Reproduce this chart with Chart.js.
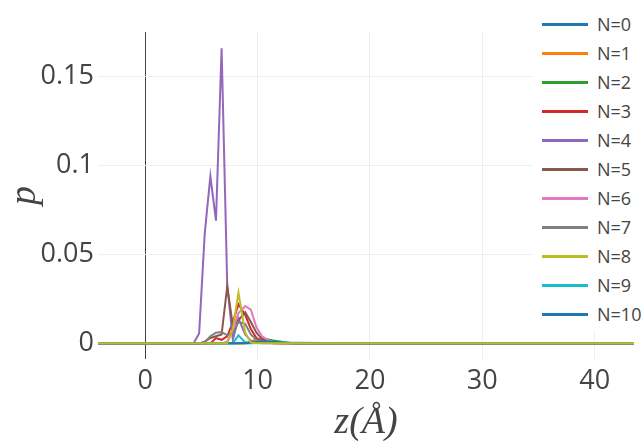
<!DOCTYPE html>
<html>
<head>
<meta charset="utf-8">
<script src="https://cdn.jsdelivr.net/npm/chart.js@4.4.0/dist/chart.umd.min.js"></script>
<style>
  html, body { margin: 0; padding: 0; background: #fff; }
  #wrap { position: relative; width: 643px; height: 446px; }
  #legend { position: absolute; left: 533px; top: 0; width: 110px; height: 330px; background: #fff;
            font-family: 'Open Sans', sans-serif; font-size: 18px; color: #444; }
  .item { position: absolute; left: 0; height: 29px; width: 110px; }
  .swatch { position: absolute; left: 9px; top: 13px; width: 46px; height: 3px; }
  .lbl { position: absolute; left: 64px; top: 0; line-height: 29px; }
</style>
</head>
<body>
<div id="wrap">
  <canvas id="chart" width="643" height="446"></canvas>
  <div id="legend"></div>
</div>
<script>
const z = [-4.2, 3.7, 4.3, 4.8, 5.3, 5.8, 6.3, 6.8, 7.3, 7.8, 8.3, 8.9, 9.4, 9.9, 10.4, 11.0, 11.5, 12.0, 12.5, 13.0, 14.0, 16.0, 20.0, 43.5];

const seriesNames = ['N=0', 'N=1', 'N=2', 'N=3', 'N=4', 'N=5', 'N=6', 'N=7', 'N=8', 'N=9', 'N=10'];
const seriesColors = ['#1f77b4', '#ff7f0e', '#2ca02c', '#d62728', '#9467bd', '#8c564b', '#e377c2', '#7f7f7f', '#bcbd22', '#17becf', '#1f77b4'];

const pN0 = [0, 0, 0, 0, 0, 0, 0, 0, 0, 0, 0, 0, 0, 0.0002, 0.0004, 0.0005, 0.0005, 0.0004, 0.0003, 0.0002, 0.0001, 0, 0, 0];
const pN1 = [0, 0, 0, 0, 0, 0, 0, 0, 0, 0, 0, 0, 0.001, 0.0025, 0.003, 0.002, 0.001, 0.0005, 0.0002, 0, 0, 0, 0, 0];
const pN2 = [0, 0, 0, 0, 0, 0, 0, 0, 0, 0, 0, 0.0003, 0.0006, 0.001, 0.002, 0.002, 0.0015, 0.001, 0.0005, 0.0002, 0, 0, 0, 0];
const pN3 = [0, 0, 0, 0, 0, 0, 0.003, 0.002, 0.004, 0.012, 0.022, 0.016, 0.008, 0.003, 0.001, 0.0004, 0, 0, 0, 0, 0, 0, 0, 0];
const pN4 = [0, 0, 0, 0.0056, 0.062, 0.094, 0.069, 0.166, 0.033, 0.002, 0.014, 0.005, 0.0015, 0.0005, 0, 0, 0, 0, 0, 0, 0, 0, 0, 0];
const pN5 = [0, 0, 0, 0, 0.001, 0.003, 0.004, 0.005, 0.032, 0.010, 0.013, 0.0175, 0.012, 0.006, 0.0025, 0.001, 0.0005, 0, 0, 0, 0, 0, 0, 0];
const pN6 = [0, 0, 0, 0, 0, 0, 0, 0, 0.001, 0.008, 0.017, 0.021, 0.019, 0.009, 0.004, 0.0015, 0.0005, 0.0002, 0, 0, 0, 0, 0, 0];
const pN7 = [0, 0, 0, 0, 0.0007, 0.004, 0.006, 0.0064, 0.0045, 0.006, 0.012, 0.011, 0.005, 0.002, 0.001, 0.0004, 0, 0, 0, 0, 0, 0, 0, 0];
const pN8 = [0, 0, 0, 0, 0, 0, 0, 0, 0, 0.008, 0.0285, 0.006, 0.0005, 0, 0, 0, 0, 0, 0, 0, 0, 0, 0, 0];
const pN9 = [0, 0, 0, 0, 0, 0, 0, 0, 0, 0, 0.0045, 0.0005, 0.0004, 0.0004, 0.0004, 0.0003, 0.0003, 0.0003, 0.0003, 0.0003, 0.0003, 0.0002, 0.0001, 0];
const pN10 = [0, 0, 0, 0, 0, 0, 0, 0, 0, 0, 0, 0, 0.0003, 0.0008, 0.001, 0.001, 0.0008, 0.0005, 0.0003, 0.0001, 0, 0, 0, 0];
const seriesValues = [pN0, pN1, pN2, pN3, pN4, pN5, pN6, pN7, pN8, pN9, pN10];

const xTicks = [0, 10, 20, 30, 40];
const yTicks = [0, 0.05, 0.1, 0.15];

const datasets = seriesNames.map((name, i) => ({
  label: name,
  data: z.map((x, k) => ({ x, y: seriesValues[i][k] })),
  borderColor: seriesColors[i],
  borderWidth: 2,
  pointRadius: 0,
  tension: 0,
  fill: false,
  // later traces on top, olive baseline on top of everything
  order: name === 'N=8' ? -1 : 10 - i,
}));

new Chart(document.getElementById('chart'), {
  type: 'line',
  data: { datasets },
  options: {
    responsive: false,
    animation: false,
    devicePixelRatio: 1,
    layout: { padding: { left: 0, right: 9, top: 32, bottom: 0 } },
    plugins: { legend: { display: false }, tooltip: { enabled: false } },
    scales: {
      x: {
        type: 'linear',
        min: -4.2,
        max: 43.5,
        afterBuildTicks: s => { s.ticks = xTicks.map(v => ({ value: v })); },
        afterFit: s => { s.height = 87; },
        grid: {
          drawTicks: false,
          color: ctx => (ctx.tick && ctx.tick.value === 0 ? '#444' : '#eeeeee'),
          lineWidth: 1,
        },
        border: { display: false },
        ticks: { color: '#444', padding: 6, font: { family: 'Open Sans', size: 27 } },
        title: {
          display: true,
          text: 'z(Å)',
          color: '#444',
          font: { family: 'Liberation Serif', style: 'italic', size: 38 },
          padding: { top: 0, bottom: 0 },
        },
      },
      y: {
        min: -0.0088,
        max: 0.1752,
        afterBuildTicks: s => { s.ticks = yTicks.map(v => ({ value: v })); },
        afterFit: s => { s.width = 98; },
        grid: { drawTicks: false, color: '#eeeeee', lineWidth: 1 },
        border: { display: false },
        ticks: {
          color: '#444',
          padding: 4,
          font: { family: 'Open Sans', size: 27 },
          callback: v => String(v),
        },
        title: {
          display: true,
          text: 'p',
          color: '#444',
          font: { family: 'Liberation Serif', style: 'italic', size: 38 },
          padding: { top: 2, bottom: 0 },
        },
      },
    },
  },
});

const legend = document.getElementById('legend');
seriesNames.forEach((name, i) => {
  const row = document.createElement('div');
  row.className = 'item';
  row.style.top = (10 + 29 * i) + 'px';
  row.innerHTML = `<div class="swatch" style="background:${seriesColors[i]}"></div><div class="lbl">${name}</div>`;
  legend.appendChild(row);
});
</script>
</body>
</html>
